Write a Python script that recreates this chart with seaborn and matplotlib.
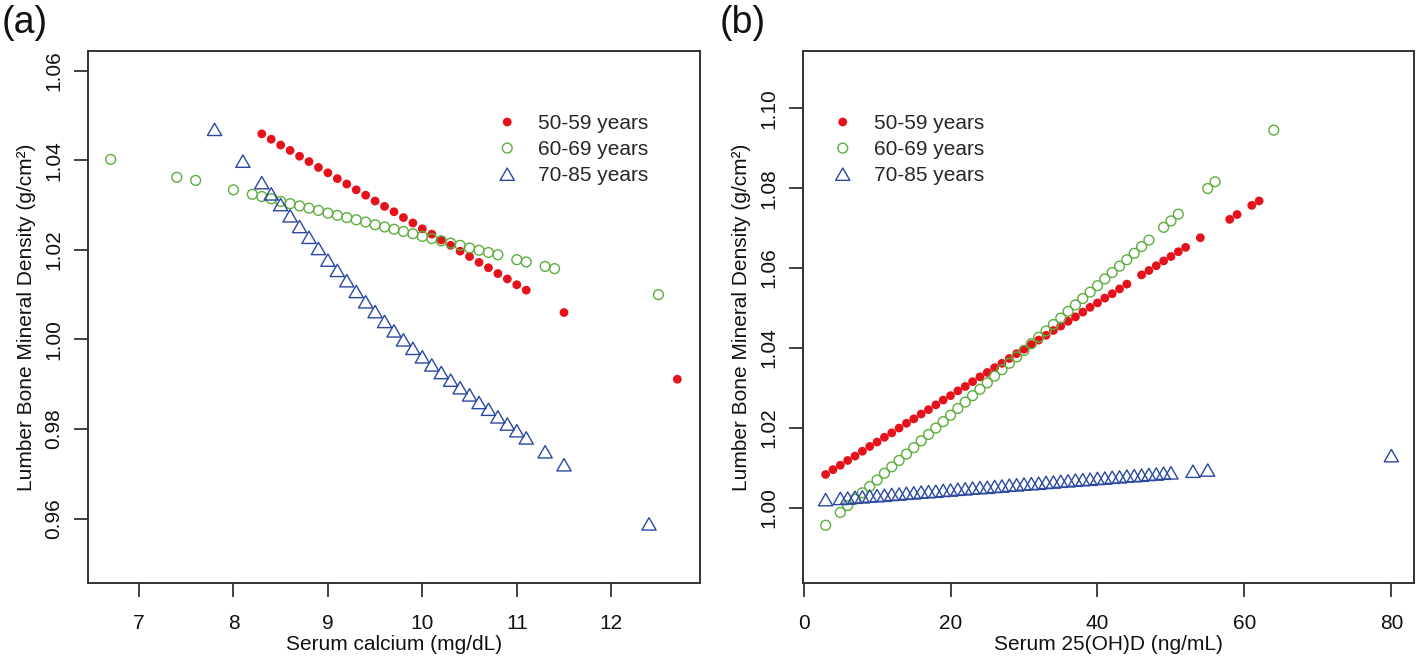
import matplotlib
matplotlib.use("Agg")
import matplotlib.pyplot as plt
import matplotlib.path as mpath
import seaborn as sns

# ---------------- Panel (a): serum calcium ----------------
ca_50 = [8.3, 8.4, 8.5, 8.6, 8.7, 8.8, 8.9, 9.0, 9.1, 9.2, 9.3, 9.4, 9.5, 9.6, 9.7,
         9.8, 9.9, 10.0, 10.1, 10.2, 10.3, 10.4, 10.5, 10.6, 10.7, 10.8, 10.9, 11.0,
         11.1, 11.5, 12.7]
bmd_ca_50 = [1.0459, 1.0447, 1.0434, 1.0422, 1.0409, 1.0397, 1.0384, 1.0372, 1.0359,
             1.0347, 1.0334, 1.0322, 1.0309, 1.0297, 1.0285, 1.0272, 1.0260, 1.0247,
             1.0235, 1.0222, 1.0210, 1.0197, 1.0185, 1.0172, 1.0160, 1.0147, 1.0135,
             1.0122, 1.0110, 1.0060, 0.9911]

ca_60 = [6.7, 7.4, 7.6, 8.0, 8.2, 8.3, 8.4, 8.5, 8.6, 8.7, 8.8, 8.9, 9.0, 9.1, 9.2,
         9.3, 9.4, 9.5, 9.6, 9.7, 9.8, 9.9, 10.0, 10.1, 10.2, 10.3, 10.4, 10.5, 10.6,
         10.7, 10.8, 11.0, 11.1, 11.3, 11.4, 12.5]
bmd_ca_60 = [1.0402, 1.0362, 1.0355, 1.0334, 1.0324, 1.0319, 1.0314, 1.0308, 1.0303,
             1.0298, 1.0293, 1.0288, 1.0282, 1.0277, 1.0272, 1.0267, 1.0262, 1.0256,
             1.0251, 1.0246, 1.0241, 1.0236, 1.0230, 1.0225, 1.0220, 1.0215, 1.0210,
             1.0204, 1.0199, 1.0194, 1.0189, 1.0178, 1.0173, 1.0163, 1.0158, 1.0100]

ca_70 = [7.8, 8.1, 8.3, 8.4, 8.5, 8.6, 8.7, 8.8, 8.9, 9.0, 9.1, 9.2, 9.3, 9.4, 9.5,
         9.6, 9.7, 9.8, 9.9, 10.0, 10.1, 10.2, 10.3, 10.4, 10.5, 10.6, 10.7, 10.8,
         10.9, 11.0, 11.1, 11.3, 11.5, 12.4]
bmd_ca_70 = [1.0469, 1.0398, 1.0350, 1.0325, 1.0301, 1.0276, 1.0252, 1.0228, 1.0203,
             1.0177, 1.0154, 1.0131, 1.0107, 1.0084, 1.0062, 1.0040, 1.0019, 0.9999,
             0.9980, 0.9961, 0.9943, 0.9926, 0.9909, 0.9892, 0.9876, 0.9859, 0.9844,
             0.9827, 0.9811, 0.9796, 0.9780, 0.9749, 0.9720, 0.9588]

# ---------------- Panel (b): serum 25(OH)D ----------------
vd_50 = [3, 4, 5, 6, 7, 8, 9, 10, 11, 12, 13, 14, 15, 16, 17, 18, 19, 20, 21, 22, 23,
         24, 25, 26, 27, 28, 29, 30, 31, 32, 33, 34, 35, 36, 37, 38, 39, 40, 41, 42,
         43, 44, 46, 47, 48, 49, 50, 51, 52, 54, 58, 59, 61, 62]
bmd_vd_50 = [1.0084, 1.0096, 1.0107, 1.0119, 1.0130, 1.0142, 1.0154, 1.0165, 1.0177,
             1.0188, 1.0200, 1.0212, 1.0223, 1.0235, 1.0246, 1.0258, 1.0270, 1.0281,
             1.0293, 1.0304, 1.0316, 1.0328, 1.0339, 1.0351, 1.0362, 1.0374, 1.0386,
             1.0397, 1.0409, 1.0420, 1.0432, 1.0444, 1.0455, 1.0467, 1.0478, 1.0490,
             1.0502, 1.0513, 1.0525, 1.0536, 1.0548, 1.0560, 1.0583, 1.0594, 1.0606,
             1.0618, 1.0629, 1.0641, 1.0652, 1.0676, 1.0722, 1.0734, 1.0757, 1.0768]

vd_60 = [3, 5, 6, 7, 8, 9, 10, 11, 12, 13, 14, 15, 16, 17, 18, 19, 20, 21, 22, 23, 24,
         25, 26, 27, 28, 29, 30, 31, 32, 33, 34, 35, 36, 37, 38, 39, 40, 41, 42, 43,
         44, 45, 46, 47, 49, 50, 51, 55, 56, 64]
bmd_vd_60 = [0.9957, 0.9989, 1.0006, 1.0022, 1.0038, 1.0054, 1.0070, 1.0087, 1.0103,
             1.0119, 1.0135, 1.0151, 1.0168, 1.0184, 1.0200, 1.0216, 1.0232, 1.0249,
             1.0265, 1.0281, 1.0297, 1.0313, 1.0330, 1.0346, 1.0362, 1.0378, 1.0394,
             1.0411, 1.0427, 1.0443, 1.0459, 1.0475, 1.0492, 1.0508, 1.0524, 1.0540,
             1.0556, 1.0573, 1.0589, 1.0605, 1.0621, 1.0637, 1.0654, 1.0670, 1.0702,
             1.0718, 1.0735, 1.0799, 1.0816, 1.0945]

vd_70 = [3, 5, 6, 7, 8, 9, 10, 11, 12, 13, 14, 15, 16, 17, 18, 19, 20, 21, 22, 23, 24,
         25, 26, 27, 28, 29, 30, 31, 32, 33, 34, 35, 36, 37, 38, 39, 40, 41, 42, 43,
         44, 45, 46, 47, 48, 49, 50, 53, 55, 80]
bmd_vd_70 = [1.0021, 1.0024, 1.0025, 1.0027, 1.0028, 1.0030, 1.0031, 1.0032, 1.0034,
             1.0035, 1.0037, 1.0038, 1.0040, 1.0041, 1.0042, 1.0044, 1.0045, 1.0047,
             1.0048, 1.0050, 1.0051, 1.0052, 1.0054, 1.0055, 1.0057, 1.0058, 1.0060,
             1.0061, 1.0062, 1.0064, 1.0065, 1.0067, 1.0068, 1.0070, 1.0071, 1.0072,
             1.0074, 1.0075, 1.0077, 1.0078, 1.0080, 1.0081, 1.0082, 1.0084, 1.0085,
             1.0087, 1.0088, 1.0092, 1.0095, 1.0131]

group_labels = ["50-59 years", "60-69 years", "70-85 years"]
ca_ticks = [7, 8, 9, 10, 11, 12]
ca_yticks = [0.96, 0.98, 1.00, 1.02, 1.04, 1.06]
vd_ticks = [0, 20, 40, 60, 80]
vd_yticks = [1.00, 1.02, 1.04, 1.06, 1.08, 1.10]

# ---------------- styling ----------------
sns.set_theme(style="ticks")
plt.rcParams['font.family'] = ['Liberation Sans', 'DejaVu Sans']

RED = "#E5121C"
GREEN = "#5DAE3E"
BLUE = "#2A48A0"
AX_COL = "#333333"
FS = 15

tri = mpath.Path([(0, 0.75), (-0.866, -0.75), (0.866, -0.75), (0, 0.75)], closed=True)

W, H = 1418, 671
fig = plt.figure(figsize=(W / 100, H / 100), dpi=100)
ax1 = fig.add_axes([88 / W, 88 / H, 612 / W, 532 / H])
ax2 = fig.add_axes([803 / W, 88 / H, 611 / W, 532 / H])


def draw(ax, x, y, color, kind, label):
    if kind == "dot":
        sns.scatterplot(x=x, y=y, ax=ax, marker="o", s=40, color=color,
                        linewidth=0, label=label, legend=False)
        coll = ax.collections[-1]
        coll.set_facecolor(color)
        coll.set_edgecolor("none")
    elif kind == "circle":
        sns.scatterplot(x=x, y=y, ax=ax, marker="o", s=50, color=color,
                        label=label, legend=False)
        coll = ax.collections[-1]
        coll.set_facecolor("none")
        coll.set_edgecolor(color)
        coll.set_linewidth(1.0)
    else:
        sns.scatterplot(x=x, y=y, ax=ax, marker=tri, s=105, color=color,
                        label=label, legend=False)
        coll = ax.collections[-1]
        coll.set_facecolor("none")
        coll.set_edgecolor(color)
        coll.set_linewidth(1.0)


draw(ax1, ca_50, bmd_ca_50, RED, "dot", group_labels[0])
draw(ax1, ca_60, bmd_ca_60, GREEN, "circle", group_labels[1])
draw(ax1, ca_70, bmd_ca_70, BLUE, "tri", group_labels[2])

draw(ax2, vd_50, bmd_vd_50, RED, "dot", group_labels[0])
draw(ax2, vd_60, bmd_vd_60, GREEN, "circle", group_labels[1])
draw(ax2, vd_70, bmd_vd_70, BLUE, "tri", group_labels[2])

ax1.set_xlim(6.46, 12.94)
ax1.set_ylim(0.9456, 1.0644)
ax1.set_xticks(ca_ticks)
ax1.set_xticklabels([str(t) for t in ca_ticks])
ax1.set_yticks(ca_yticks)
ax1.set_yticklabels([f"{t:.2f}" for t in ca_yticks])

ax2.set_xlim(-0.08, 83.08)
ax2.set_ylim(0.98125, 1.1143)
ax2.set_xticks(vd_ticks)
ax2.set_xticklabels([str(t) for t in vd_ticks])
ax2.set_yticks(vd_yticks)
ax2.set_yticklabels([f"{t:.2f}" for t in vd_yticks])

ylabel = "Lumber Bone Mineral Density (g/cm\u00b2)"
ax1.set_xlabel("Serum calcium (mg/dL)", fontsize=FS, labelpad=2, color="#111111")
ax2.set_xlabel("Serum 25(OH)D (ng/mL)", fontsize=FS, labelpad=2, color="#111111")
for ax in (ax1, ax2):
    ax.set_ylabel(ylabel, fontsize=FS, labelpad=6, color="#111111")
    for sp in ax.spines.values():
        sp.set_visible(True)
        sp.set_color(AX_COL)
        sp.set_linewidth(1.4)
    ax.tick_params(axis="both", direction="out", length=10, width=1.3,
                   color=AX_COL, labelsize=FS, labelcolor="#111111")
    ax.tick_params(axis="x", pad=12)
    ax.tick_params(axis="y", pad=8)
    for lab in ax.get_yticklabels():
        lab.set_rotation(90)
        lab.set_va("center")
    ax.grid(False)
    ax.set_facecolor("white")

leg_kw = dict(fontsize=FS, frameon=False, handlelength=1.0, handletextpad=1.0,
              labelspacing=0.34, borderpad=0, borderaxespad=0, loc="upper left",
              scatterpoints=1, scatteryoffsets=[0.5])
ax1.legend(bbox_to_anchor=(0.668, 0.881), **leg_kw)
ax2.legend(bbox_to_anchor=(0.048, 0.881), **leg_kw)

fig.text(2 / W, 1 - 23 / H, "(a)", fontsize=27, ha="left", va="center", color="#111111")
fig.text(720 / W, 1 - 23 / H, "(b)", fontsize=27, ha="left", va="center", color="#111111")

fig.savefig("out.png", dpi=100, facecolor="white")
